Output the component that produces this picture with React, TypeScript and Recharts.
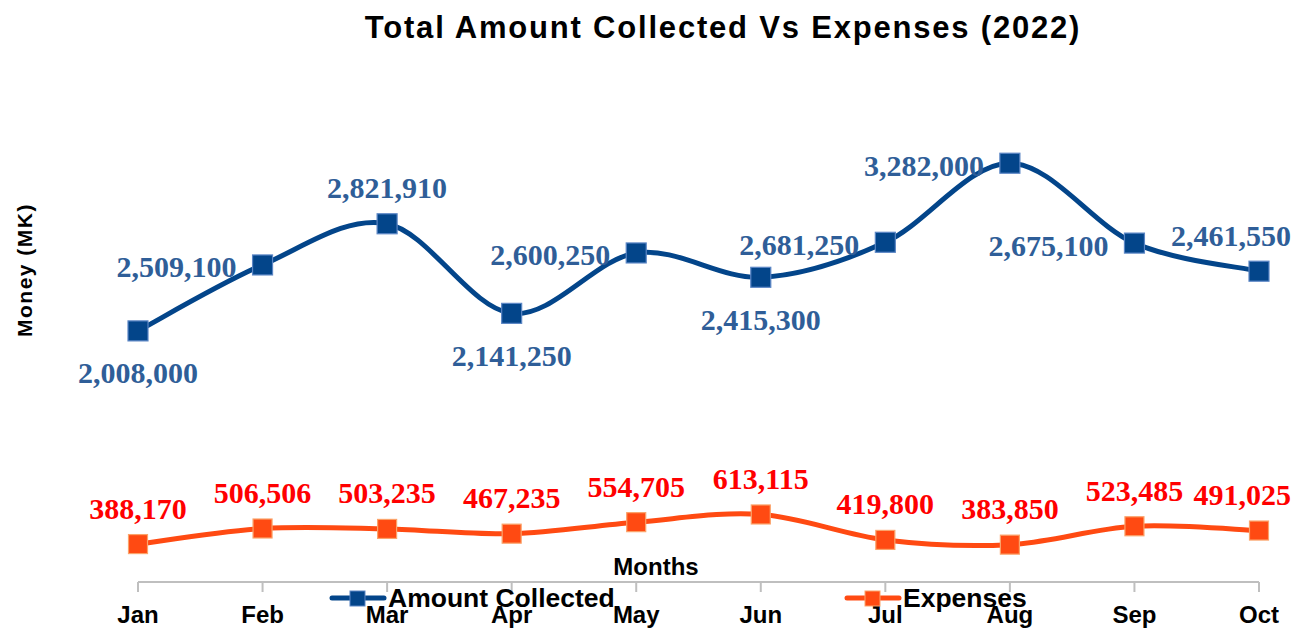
import { LabelList, Line, LineChart, XAxis, YAxis } from 'recharts';

const months = ['Jan', 'Feb', 'Mar', 'Apr', 'May', 'Jun', 'Jul', 'Aug', 'Sep', 'Oct'];
const amountCollected = [2008000, 2509100, 2821910, 2141250, 2600250, 2415300, 2681250, 3282000, 2675100, 2461550];
const expenses = [388170, 506506, 503235, 467235, 554705, 613115, 419800, 383850, 523485, 491025];
// where Excel put each data label relative to its marker
const collectedLabelSide = ['below', 'left', 'above', 'below', 'left', 'below', 'left', 'left', 'left', 'above'];
const expensesLabelSide = ['above', 'above', 'above', 'above', 'above', 'above', 'above', 'above', 'above', 'above'];

const data = months.map((month, i) => ({ month, collected: amountCollected[i], expenses: expenses[i] }));

const BLUE = '#03458a';
const BLUE_LABEL = '#2f5e98';
const ORANGE = '#ff4a12';
const RED = '#ff0000';
const SANS = '"Liberation Sans", Arial, sans-serif';
const SERIF = '"Liberation Serif", "Times New Roman", serif';

// Excel style smooth line (Catmull-Rom through the points)
function excelSmooth(context: any) {
  let pts: number[][] = [];
  return {
    areaStart() {},
    areaEnd() {},
    lineStart() {
      pts = [];
    },
    point(x: number, y: number) {
      pts.push([+x, +y]);
    },
    lineEnd() {
      if (!pts.length) return;
      context.moveTo(pts[0][0], pts[0][1]);
      for (let i = 0; i < pts.length - 1; i++) {
        const p0 = pts[i - 1] || pts[i];
        const p1 = pts[i];
        const p2 = pts[i + 1];
        const p3 = pts[i + 2] || pts[i + 1];
        context.bezierCurveTo(
          p1[0] + (p2[0] - p0[0]) / 6,
          p1[1] + (p2[1] - p0[1]) / 6,
          p2[0] - (p3[0] - p1[0]) / 6,
          p2[1] - (p3[1] - p1[1]) / 6,
          p2[0],
          p2[1],
        );
      }
    },
  };
}

const squareDot = (size: number, fill: string, stroke: string) => (props: any) => {
  const { cx, cy, index } = props;
  if (cx == null || cy == null) return <g key={index} />;
  return <rect key={index} x={cx - size / 2} y={cy - size / 2} width={size} height={size} fill={fill} stroke={stroke} strokeWidth={1.2} />;
};

const valueLabel = (sides: string[], color: string) => (props: any) => {
  const { x, y, value, index } = props;
  const text = Number(value).toLocaleString('en-US');
  const side = sides[index];
  let tx = x;
  let ty = y;
  let anchor: 'start' | 'middle' | 'end' = 'middle';
  if (side === 'below') ty = y + 42;
  if (side === 'above') ty = y - 36;
  if (side === 'left') {
    tx = x - 26;
    ty = y + 2;
    anchor = 'end';
  }
  if (side === 'above' && x > 1200) {
    tx = 1291;
    anchor = 'end';
  }
  return (
    <text key={index} x={tx} y={ty} textAnchor={anchor} dominantBaseline="central" fill={color} fontFamily={SERIF} fontWeight="bold" fontSize={30}>
      {text}
    </text>
  );
};

export default function App() {
  return (
    <div style={{ position: 'absolute', left: 0, top: 0, width: 1307, height: 631, background: '#fff', fontFamily: SANS }}>
      <div
        style={{
          position: 'absolute',
          left: 0,
          width: 1446,
          top: 10,
          textAlign: 'center',
          fontSize: 31,
          letterSpacing: 1.8,
          fontWeight: 'bold',
          color: '#000',
          whiteSpace: 'nowrap',
        }}
      >
        Total Amount Collected Vs Expenses (2022)
      </div>
      <div
        style={{
          position: 'absolute',
          left: 25,
          top: 270,
          transform: 'translate(-50%, -50%) rotate(-90deg)',
          fontSize: 21,
          letterSpacing: 1.5,
          fontWeight: 'bold',
          whiteSpace: 'nowrap',
        }}
      >
        Money (MK)
      </div>
      <LineChart width={1307} height={631} data={data} margin={{ top: 99, right: 48, bottom: 19, left: 138 }}>
        <XAxis
          dataKey="month"
          padding={{ left: 0, right: 0 }}
          height={30}
          tickSize={10}
          tickMargin={14}
          stroke="#bfbfbf"
          axisLine={{ stroke: '#bfbfbf', strokeWidth: 2 }}
          tickLine={{ stroke: '#bfbfbf', strokeWidth: 2 }}
          tick={{ fill: '#000', fontSize: 24, fontWeight: 'bold', fontFamily: SANS }}
        />
        <YAxis hide domain={[100000, 3770000]} />
        <Line
          dataKey="collected"
          type={excelSmooth as any}
          stroke={BLUE}
          strokeWidth={5}
          dot={squareDot(20, BLUE, '#5b86c5')}
          activeDot={false}
          isAnimationActive={false}
        >
          <LabelList dataKey="collected" content={valueLabel(collectedLabelSide, BLUE_LABEL)} />
        </Line>
        <Line
          dataKey="expenses"
          type={excelSmooth as any}
          stroke={ORANGE}
          strokeWidth={5}
          dot={squareDot(19, ORANGE, '#fba36a')}
          activeDot={false}
          isAnimationActive={false}
        >
          <LabelList dataKey="expenses" content={valueLabel(expensesLabelSide, RED)} />
        </Line>
      </LineChart>
      <div style={{ position: 'absolute', left: 656, top: 567, transform: 'translate(-50%, -50%)', fontSize: 24, fontWeight: 'bold' }}>Months</div>
      <svg style={{ position: 'absolute', left: 0, top: 0, pointerEvents: 'none' }} width={1307} height={631}>
        <line x1={332} y1={598} x2={384} y2={598} stroke={BLUE} strokeWidth={5} strokeLinecap="round" />
        <rect x={350} y={591} width={15} height={15} fill={BLUE} stroke="#5b86c5" />
        <line x1={847} y1={598} x2={899} y2={598} stroke={ORANGE} strokeWidth={5} strokeLinecap="round" />
        <rect x={865} y={591} width={15} height={15} fill={ORANGE} stroke="#fba36a" />
      </svg>
      <div style={{ position: 'absolute', left: 388, top: 598, transform: 'translateY(-50%)', fontSize: 26.5, fontWeight: 'bold', whiteSpace: 'nowrap' }}>
        Amount Collected
      </div>
      <div style={{ position: 'absolute', left: 903, top: 598, transform: 'translateY(-50%)', fontSize: 26.5, fontWeight: 'bold', whiteSpace: 'nowrap' }}>
        Expenses
      </div>
    </div>
  );
}
